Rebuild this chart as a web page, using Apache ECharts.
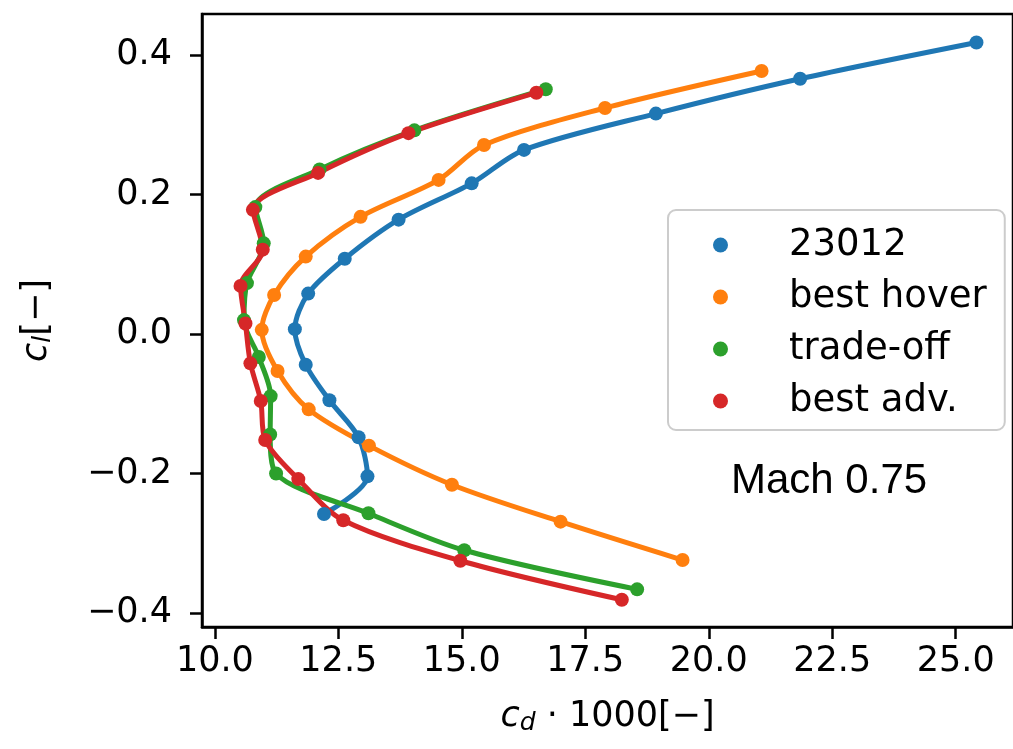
<!DOCTYPE html>
<html>
<head>
<meta charset="utf-8">
<script src="https://cdn.jsdelivr.net/npm/echarts@6/dist/echarts.min.js"></script>
<style>
html,body{margin:0;padding:0;background:#fff;}
#chart{width:1013px;height:749px;}
</style>
</head>
<body>
<div id="chart"></div>
<script>
const seriesNames = ['23012', 'best hover', 'trade-off', 'best adv.'];
const colors = ['#1f77b4', '#ff7f0e', '#2ca02c', '#d62728'];

const cd23012 = [25.42, 21.85, 18.93, 16.26, 15.2, 13.72, 12.63, 11.89, 11.62, 11.84, 12.32, 12.91, 13.09, 12.21];
const cl23012 = [0.418, 0.366, 0.316, 0.264, 0.216, 0.164, 0.108, 0.058, 0.007, -0.044, -0.095, -0.148, -0.204, -0.258];

const cdHover = [21.07, 17.9, 15.45, 14.53, 12.95, 11.84, 11.2, 10.95, 11.27, 11.9, 13.12, 14.8, 17.0, 19.47];
const clHover = [0.377, 0.324, 0.271, 0.221, 0.168, 0.111, 0.056, 0.006, -0.053, -0.108, -0.160, -0.216, -0.269, -0.324];

const cdTrade = [16.7, 14.04, 12.12, 10.82, 10.99, 10.65, 10.59, 10.89, 11.13, 11.12, 11.24, 13.11, 15.05, 18.55];
const clTrade = [0.351, 0.292, 0.236, 0.182, 0.130, 0.073, 0.020, -0.033, -0.089, -0.144, -0.200, -0.257, -0.310, -0.366];

const cdAdv = [16.51, 13.92, 12.09, 10.77, 10.97, 10.52, 10.62, 10.72, 10.93, 11.02, 11.69, 12.6, 14.97, 18.24];
const clAdv = [0.346, 0.288, 0.231, 0.178, 0.121, 0.069, 0.015, -0.042, -0.096, -0.152, -0.208, -0.267, -0.325, -0.381];

const xTicks = [10.0, 12.5, 15.0, 17.5, 20.0, 22.5, 25.0];
const yTicks = [-0.4, -0.2, 0.0, 0.2, 0.4];
const annotation = 'Mach 0.75';

const cdAll = [cd23012, cdHover, cdTrade, cdAdv];
const clAll = [cl23012, clHover, clTrade, clAdv];

const FONT = 'DejaVu Sans';
const FS = 35;

function fmtX(v) { return v.toFixed(1); }
function fmtY(v) {
  const s = Math.abs(v).toFixed(1);
  return (v < -1e-9 ? '\u2212' : '') + s;
}

const chart = echarts.init(document.getElementById('chart'), null, {renderer: 'canvas'});

const series = seriesNames.map((name, i) => ({
  name: name,
  type: 'line',
  data: cdAll[i].map((x, k) => [x, clAll[i][k]]),
  smooth: 0.3,
  symbol: 'circle',
  symbolSize: 14,
  showSymbol: true,
  lineStyle: {width: 5, color: colors[i]},
  itemStyle: {color: colors[i]},
  emphasis: {disabled: true},
  animation: false,
  clip: false
}));

const option = {
  animation: false,
  backgroundColor: '#fff',
  grid: {
    left: 202, top: 14, right: -10, bottom: 122,
    show: true, borderColor: '#000', borderWidth: 2.5, backgroundColor: 'transparent'
  },
  xAxis: {
    type: 'value',
    min: 9.74, max: 26.16,
    splitLine: {show: false},
    axisLine: {show: true, onZero: false, lineStyle: {color: '#000', width: 2.5}},
    axisTick: {show: true, length: 12, inside: false, lineStyle: {color: '#000', width: 2.5}, customValues: xTicks},
    axisLabel: {
      customValues: xTicks,
      formatter: fmtX,
      color: '#000', fontFamily: FONT, fontSize: FS, margin: 17
    },
    name: '{i|c}{s|d}{n| \u00b7 1000[\u2212]}',
    nameLocation: 'middle',
    nameGap: 70,
    nameTextStyle: {
      color: '#000', fontFamily: FONT, fontSize: FS,
      rich: {
        i: {fontFamily: FONT, fontStyle: 'italic', fontSize: FS, color: '#000'},
        s: {fontFamily: FONT, fontStyle: 'italic', fontSize: 25, color: '#000', padding: [14, 0, 0, 0]},
        n: {fontFamily: FONT, fontSize: FS, color: '#000'}
      }
    }
  },
  yAxis: {
    type: 'value',
    min: -0.420, max: 0.4588,
    splitLine: {show: false},
    axisLine: {show: true, onZero: false, lineStyle: {color: '#000', width: 2.5}},
    axisTick: {show: true, length: 12, inside: false, lineStyle: {color: '#000', width: 2.5}, customValues: yTicks},
    axisLabel: {
      customValues: yTicks,
      formatter: fmtY,
      color: '#000', fontFamily: FONT, fontSize: FS, margin: 30
    },
    name: '{i|c}{s|l}{n|[\u2212]}',
    nameLocation: 'middle',
    nameGap: 146,
    nameRotate: 90,
    nameTextStyle: {
      color: '#000', fontFamily: FONT, fontSize: FS,
      rich: {
        i: {fontFamily: FONT, fontStyle: 'italic', fontSize: FS, color: '#000'},
        s: {fontFamily: FONT, fontStyle: 'italic', fontSize: 25, color: '#000', padding: [14, 0, 0, 0]},
        n: {fontFamily: FONT, fontSize: FS, color: '#000'}
      }
    }
  },
  legend: {
    show: true,
    data: seriesNames.map(n => ({name: n, icon: 'circle'})),
    orient: 'vertical',
    left: 668, top: 210,
    itemWidth: 15, itemHeight: 15,
    itemGap: 12,
    padding: [15, 18, 9, 45],
    backgroundColor: 'rgba(255,255,255,0.8)',
    borderColor: '#cccccc', borderWidth: 2, borderRadius: 8,
    textStyle: {fontFamily: FONT, fontSize: 37, color: '#000', lineHeight: 40, padding: [0, 0, 0, 56]},
    selectedMode: false
  },
  graphic: [{
    type: 'text',
    left: 731, top: 460,
    style: {text: annotation, fontFamily: 'Liberation Sans', fontSize: 42, fill: '#000'},
    z: 100
  }],
  series: series
};

chart.setOption(option);
</script>
</body>
</html>
